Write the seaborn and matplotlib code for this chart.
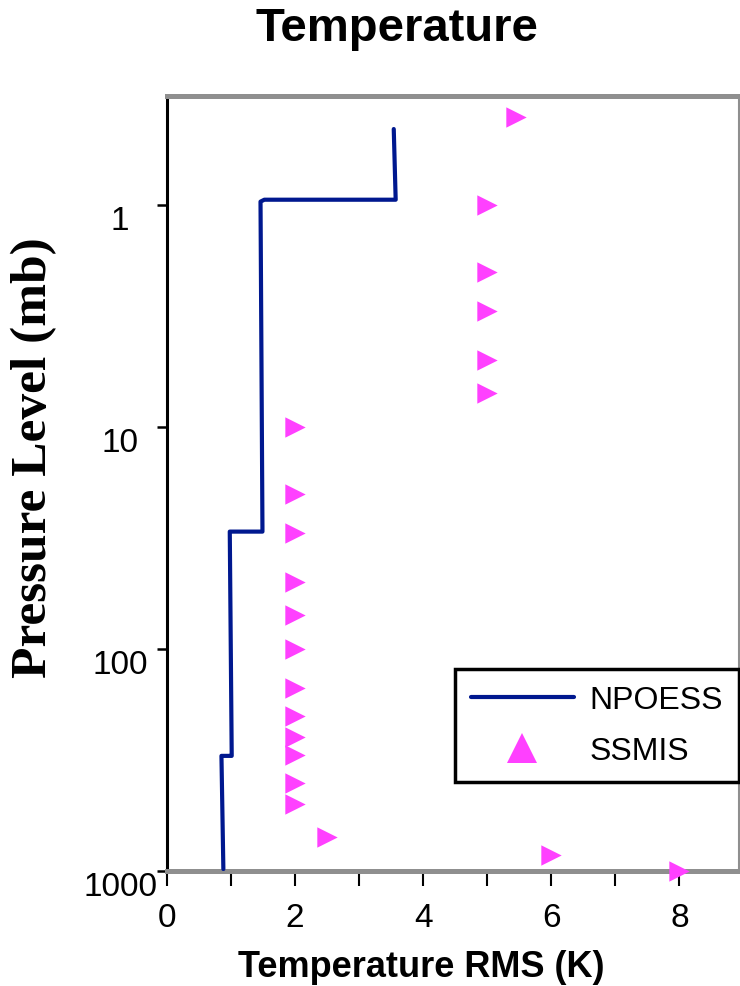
import matplotlib
matplotlib.use('Agg')
import matplotlib.pyplot as plt
import seaborn as sns
import pandas as pd
from matplotlib.lines import Line2D
from matplotlib.ticker import FixedLocator, NullLocator, FixedFormatter

# ---- data ----
npoess_rms = [3.54, 3.57, 1.52, 1.46, 1.49, 1.49, 0.98, 1.01, 1.01, 0.85, 0.88]
npoess_p = [0.455, 0.947, 0.947, 0.966, 28.2, 29.6, 29.6, 297, 303, 303, 980]

ssmis_rms = [5.45, 5, 5, 5, 5, 5, 2, 2, 2, 2, 2, 2, 2, 2, 2, 2, 2, 2, 2.5, 6, 8]
ssmis_p = [0.4, 1, 2, 3, 5, 7, 10, 20, 30, 50, 70, 100, 150, 200, 250, 300,
           400, 500, 700, 850, 1000]

y_ticks = [1, 10, 100, 1000]
y_tick_labels = ['1', '10', '100', '1000']
x_ticks = [0, 2, 4, 6, 8]
x_tick_labels = ['0', '2', '4', '6', '8']
x_minor_ticks = [1, 3, 5, 7]

series_names = ['NPOESS', 'SSMIS']
title_text = 'Temperature'
xlabel_text = 'Temperature RMS (K)'
ylabel_text = 'Pressure Level (mb)'

NAVY = '#00188F'
MAGENTA = '#FF40FF'
GRAY = '#8f8f8f'

sns.set_style('white')
plt.rcParams['font.family'] = ['Liberation Sans', 'DejaVu Sans']
plt.rcParams['text.color'] = 'black'
plt.rcParams['axes.labelcolor'] = 'black'
plt.rcParams['xtick.color'] = 'black'
plt.rcParams['ytick.color'] = 'black'

fig = plt.figure(figsize=(7.4, 9.87), dpi=100)
ax = fig.add_axes([167 / 740, 1 - 872 / 987, 572 / 740, 775 / 987])

df_line = pd.DataFrame({'rms': npoess_rms, 'p': npoess_p})
df_pts = pd.DataFrame({'rms': ssmis_rms, 'p': ssmis_p})

sns.lineplot(data=df_line, x='rms', y='p', sort=False, estimator=None,
             color=NAVY, linewidth=3, ax=ax, legend=False, zorder=3)
sns.scatterplot(data=df_pts, x='rms', y='p', marker='>', s=215,
                color=MAGENTA, edgecolor=MAGENTA, linewidth=0, ax=ax,
                legend=False, clip_on=False, zorder=5)

ax.set_yscale('log')
ax.set_ylim(1000, 0.323)
ax.set_xlim(0, 8.93)
ax.set_xlabel('')
ax.set_ylabel('')

ax.yaxis.set_major_locator(FixedLocator(y_ticks))
ax.yaxis.set_major_formatter(FixedFormatter(y_tick_labels))
ax.yaxis.set_minor_locator(NullLocator())
ax.xaxis.set_major_locator(FixedLocator(x_ticks))
ax.xaxis.set_major_formatter(FixedFormatter(x_tick_labels))
ax.xaxis.set_minor_locator(FixedLocator(x_minor_ticks))

ax.tick_params(axis='y', which='major', direction='out', length=7.2,
               width=1.8, colors='black', labelsize=24, pad=26.6, left=True)
ax.tick_params(axis='x', which='both', direction='out', length=11,
               width=1.5, colors='black', labelsize=24, pad=11.3, bottom=True)
plt.setp(ax.get_yticklabels(), ha='center', va='top')

for side in ['top', 'bottom']:
    ax.spines[side].set_color(GRAY)
    ax.spines[side].set_linewidth(3.6)
ax.spines['right'].set_color(GRAY)
ax.spines['right'].set_linewidth(1.5)
ax.spines['left'].set_color('black')
ax.spines['left'].set_linewidth(2.2)

handles = [Line2D([], [], color=NAVY, lw=3),
           Line2D([], [], marker='^', ls='', color=MAGENTA, markersize=21,
                  markeredgewidth=0)]
leg = ax.legend(handles, series_names, loc='lower right',
                bbox_to_anchor=(1.0, 0.115), borderaxespad=0,
                fontsize=23, handlelength=3.2, handletextpad=0.5,
                borderpad=0.5, labelspacing=0.65, fancybox=False,
                framealpha=1, edgecolor='black')
leg.get_frame().set_linewidth(2.5)
for t in leg.get_texts():
    t.set_color('black')

fig.text(397 / 740, 1 - 29 / 987, title_text, ha='center', va='center',
         fontsize=34, fontweight='bold', color='black')
fig.text(421 / 740, 1 - 968 / 987, xlabel_text, ha='center', va='center',
         fontsize=26, fontweight='bold', color='black')
fig.text(34 / 740, 1 - 458 / 987, ylabel_text, ha='center', va='center',
         rotation=90, fontsize=37, fontweight='bold', color='black',
         family=['Liberation Serif', 'DejaVu Serif'])

fig.savefig('out.png', dpi=100)
